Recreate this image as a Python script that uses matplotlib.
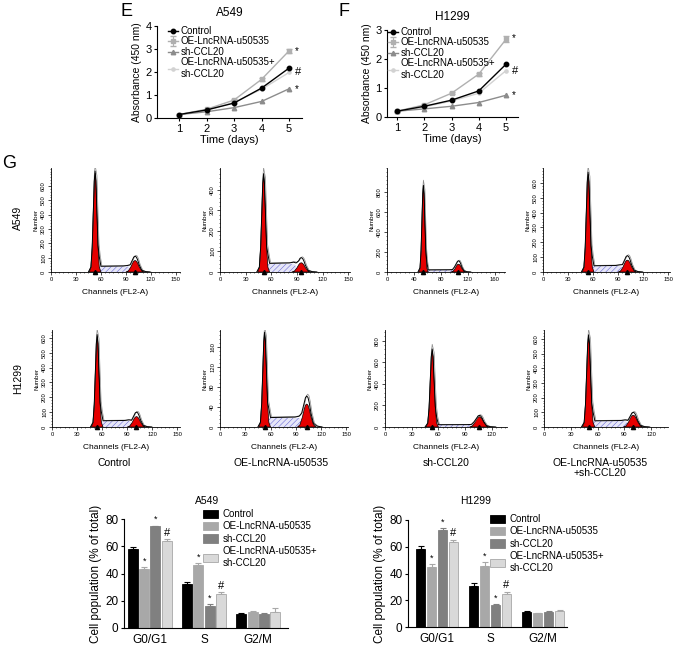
import numpy as np
import matplotlib.pyplot as plt
from matplotlib.ticker import MultipleLocator

plt.rcParams['font.family'] = ['Liberation Sans', 'DejaVu Sans']
plt.rcParams['axes.linewidth'] = 0.8
plt.rcParams['hatch.linewidth'] = 0.35

W, H = 677, 647

# ---------------- data ----------------
days = [1, 2, 3, 4, 5]
group_names = ['Control', 'OE-LncRNA-u50535', 'sh-CCL20', 'OE-LncRNA-u50535+\nsh-CCL20']

# absorbance (450 nm), panel E / F
a549_control = [0.15, 0.35, 0.65, 1.30, 2.17]
a549_oe = [0.15, 0.38, 0.78, 1.68, 2.92]
a549_sh = [0.15, 0.27, 0.45, 0.72, 1.27]
a549_oe_sh = [0.15, 0.33, 0.68, 1.25, 1.98]
a549_oe_err = [0.02, 0.03, 0.04, 0.08, 0.10]
a549_marks = [(2.92, '*'), (1.98, '#'), (1.27, '*')]

h1299_control = [0.20, 0.37, 0.58, 0.90, 1.82]
h1299_oe = [0.20, 0.42, 0.82, 1.48, 2.68]
h1299_sh = [0.20, 0.28, 0.37, 0.50, 0.75]
h1299_oe_sh = [0.20, 0.35, 0.55, 0.82, 1.60]
h1299_oe_err = [0.02, 0.03, 0.04, 0.05, 0.10]
h1299_marks = [(2.72, '*'), (1.60, '#'), (0.75, '*')]

# flow cytometry histograms (rows: A549, H1299; columns: groups)
hist_g1_pos = [[53, 51, 54, 54], [54, 53, 53, 50]]
hist_g1_height = [[690, 470, 850, 660], [610, 186, 710, 615]]
hist_g2_pos = [[101, 95, 106, 101], [101, 103, 106, 100]]
hist_g2_height = [[80, 45, 78, 80], [70, 46, 95, 80]]
hist_g2_outline = [[110, 70, 112, 110], [100, 62, 108, 100]]
hist_s_level = [[38, 40, 20, 40], [40, 18, 20, 40]]
hist_ymax = [[725, 507, 1040, 701], [653, 194, 900, 660]]
hist_ystep = [[100, 100, 200, 100], [100, 40, 200, 100]]
hist_yticktop = [[600, 400, 800, 600], [600, 160, 800, 600]]
hist_xmax = [[155, 152, 175, 152], [153, 152, 137, 139]]
hist_xstep = [[30, 30, 40, 30], [30, 30, 30, 30]]
hist_xticktop = [[150, 150, 160, 150], [150, 150, 120, 120]]

# peak profile read from the red G1 / G2 areas
g1_offsets = np.array([-7, -5, -3.5, -2, -1, 0, 1, 2, 3.5, 5, 7])
g1_shape = np.array([0, 0.05, 0.25, 0.65, 0.92, 1, 0.92, 0.65, 0.25, 0.05, 0])
g2_offsets = np.array([-11, -8, -5, -3, -1.5, 0, 1.5, 3, 5, 8, 11])
g2_shape = np.array([0, 0.1, 0.45, 0.78, 0.95, 1, 0.95, 0.78, 0.45, 0.1, 0])

# cell cycle distribution (% of total)
phases = ['G0/G1', 'S', 'G2/M']
a549_cycle = [[58, 32, 10.5], [43, 46, 11.5], [74.5, 16, 10.3], [63.5, 25, 12]]
a549_cycle_err = [[1.5, 2, 0.5], [1.5, 1.5, 0.8], [0.7, 1.5, 0.5], [1.5, 1.2, 2.5]]
a549_cycle_marks = [['', '', ''], ['*', '*', ''], ['*', '*', ''], ['#', '#', '']]
h1299_cycle = [[58, 31, 11.5], [44.5, 45.5, 10.5], [72.5, 16.5, 11.5], [63.5, 25, 12]]
h1299_cycle_err = [[2.5, 2, 0.5], [2.5, 3, 0.3], [1.2, 0.8, 0.5], [1.5, 1.2, 1]]
h1299_cycle_marks = a549_cycle_marks

fig = plt.figure(figsize=(W / 100, H / 100), dpi=100)


def px_axes(left, top, right, bottom):
    return fig.add_axes([left / W, 1 - bottom / H, (right - left) / W, (bottom - top) / H])


def fig_text(x, y, s, **kw):
    fig.text(x / W, 1 - y / H, s, **kw)


def clean(ax):
    ax.spines['top'].set_visible(False)
    ax.spines['right'].set_visible(False)


# ---------------- E / F: absorbance ----------------
line_styles = [dict(color='black', marker='o', ms=3.2),
               dict(color='#b0b0b0', marker='s', ms=3.2),
               dict(color='#8c8c8c', marker='^', ms=3.2),
               dict(color='#d2d2d2', marker='o', ms=2.3)]


def absorbance_panel(box, xlim, ylim, title, series, oe_err, marks, legend_at):
    ax = px_axes(*box)
    clean(ax)
    for i, (vals, st) in enumerate(zip(series, line_styles)):
        err = oe_err if i == 1 else None
        ax.errorbar(days, vals, yerr=err, lw=1, capsize=2, elinewidth=0.8,
                    label=group_names[i], zorder=4 - i if i != 0 else 5, **st)
    for val, s in marks:
        ax.text(5.22, val, s, fontsize=8 if s == '#' else 7, va='center', ha='left')
    ax.set_xlim(*xlim)
    ax.set_ylim(*ylim)
    ax.set_xticks(days)
    ax.set_yticks(np.arange(0, ylim[1] + 0.1, 1))
    ax.tick_params(labelsize=8, length=2.5, width=0.8, pad=1.5)
    ax.set_xlabel('Time (days)', fontsize=8, labelpad=1)
    ax.set_ylabel('Absorbance (450 nm)', fontsize=7.5, labelpad=2)
    ax.set_title(title, fontsize=8.5, pad=7)
    ax.legend(loc='upper left', bbox_to_anchor=(legend_at[0] / W, 1 - legend_at[1] / H),
              bbox_transform=fig.transFigure, frameon=False, fontsize=7,
              handlelength=1.0, handletextpad=0.3, labelspacing=0.05, borderpad=0,
              borderaxespad=0)
    return ax


absorbance_panel((157, 26, 302, 118), (0.2, 5.47), (0, 4), 'A549',
                 [a549_control, a549_oe, a549_sh, a549_oe_sh], a549_oe_err, a549_marks,
                 (168, 26))
absorbance_panel((387, 30, 518, 117), (0.63, 5.44), (0, 3), 'H1299',
                 [h1299_control, h1299_oe, h1299_sh, h1299_oe_sh], h1299_oe_err, h1299_marks,
                 (388, 27))

fig_text(126, 12, 'E', fontsize=13, ha='center', va='center')
fig_text(344, 12, 'F', fontsize=13, ha='center', va='center')
fig_text(9, 163, 'G', fontsize=13, ha='center', va='center')


# ---------------- G: cell cycle histograms ----------------
def cycle_hist(ax, r, c):
    c1, h1 = hist_g1_pos[r][c], hist_g1_height[r][c]
    c2, h2 = hist_g2_pos[r][c], hist_g2_height[r][c]
    o, s = hist_g2_outline[r][c], hist_s_level[r][c]

    ax.fill([c1 + 2, c1 + 5, c2 - 8, c2 - 3], [0, s, s, 0], facecolor='#e6e6f8',
            edgecolor='#5a5ad0', hatch='//////', lw=0, zorder=2)
    ax.fill(c1 + g1_offsets, h1 * g1_shape, facecolor='#e50000', edgecolor='black',
            lw=0.5, zorder=3)
    ax.fill(c2 + g2_offsets, h2 * g2_shape, facecolor='#e50000', edgecolor='black',
            lw=0.5, zorder=3)

    ox = [c1 - 8, c1 - 5, c1 - 3.5, c1 - 2, c1 - 1, c1, c1 + 1, c1 + 2, c1 + 3.5, c1 + 5,
          c1 + 7, c2 - 14, c2 - 9, c2 - 6, c2 - 3, c2 - 1.5, c2, c2 + 1.5, c2 + 3, c2 + 5,
          c2 + 8, c2 + 12, c2 + 18]
    oy = [0, .05 * h1, .25 * h1, .65 * h1, .92 * h1, 1.02 * h1, .92 * h1, .65 * h1,
          .27 * h1, .1 * h1 + s, 1.05 * s, 1.1 * s, max(1.2 * s, .2 * o),
          max(1.1 * s, .45 * o), .78 * o, .95 * o, o, .95 * o, .78 * o, .45 * o, .12 * o,
          .03 * o, 0]
    gx = [x + (1.2 if i >= 6 else 0) for i, x in enumerate(ox)]
    gy = [y * 1.06 for y in oy]
    ax.plot(gx, gy, color='#8a8a8a', lw=0.5, zorder=4)
    ax.plot(ox, oy, color='black', lw=0.7, zorder=5)
    ax.plot([c1, c2], [0, 0], ls='none', marker='^', ms=3, color='black',
            clip_on=False, zorder=6)

    ax.set_xlim(0, hist_xmax[r][c])
    ax.set_ylim(0, hist_ymax[r][c])
    ax.set_xticks(np.arange(0, hist_xticktop[r][c] + 1, hist_xstep[r][c]))
    ax.set_yticks(np.arange(0, hist_yticktop[r][c] + 1, hist_ystep[r][c]))
    ax.xaxis.set_minor_locator(MultipleLocator(hist_xstep[r][c] / 6))
    ax.yaxis.set_minor_locator(MultipleLocator(hist_ystep[r][c] / 5))
    ax.tick_params(which='major', labelsize=4.2, length=2, width=0.5, pad=1.5)
    ax.tick_params(which='minor', length=1, width=0.4)
    for lab in ax.get_yticklabels():
        lab.set_rotation(90)
        lab.set_va('center')
    ax.set_ylabel('Number', fontsize=4.5, labelpad=2)
    ax.set_xlabel('Channels (FL2-A)', fontsize=6, labelpad=5)
    for sp in ('left', 'bottom'):
        ax.spines[sp].set_linewidth(0.6)
    clean(ax)


hist_boxes = [
    [(51, 168, 180, 272), (220, 168, 350, 272), (387, 168, 505, 272), (543, 168, 670, 272)],
    [(52, 330, 180, 427), (220, 330, 348, 427), (385, 330, 507, 427), (544, 330, 668, 427)],
]
for r in range(2):
    for c in range(4):
        cycle_hist(px_axes(*hist_boxes[r][c]), r, c)

fig_text(18, 218, 'A549', fontsize=7.5, rotation=90, ha='center', va='center')
fig_text(18, 378, 'H1299', fontsize=7.5, rotation=90, ha='center', va='center')
col_label_x = [114, 281, 446, 600]
col_labels = ['Control', 'OE-LncRNA-u50535', 'sh-CCL20', 'OE-LncRNA-u50535\n+sh-CCL20']
for x, lab in zip(col_label_x, col_labels):
    fig_text(x, 458, lab, fontsize=7.5, ha='center', va='top', linespacing=0.95)

# ---------------- cell population bars ----------------
bar_colors = ['#000000', '#a8a8a8', '#808080', '#d9d9d9']
bar_edges = ['#000000', '#a8a8a8', '#808080', '#a8a8a8']


def cycle_bars(box, xlim, width, pitch, vals, errs, marks, title, title_xy, legend_at):
    ax = px_axes(*box)
    clean(ax)
    x = np.arange(len(phases))
    for i in range(4):
        pos = x + (i - 1.5) * pitch
        ax.bar(pos, vals[i], width, color=bar_colors[i], edgecolor=bar_edges[i], lw=0.6,
               label=group_names[i], zorder=2)
        ax.errorbar(pos, vals[i], yerr=[np.zeros(3), errs[i]], fmt='none',
                    ecolor=bar_edges[i], elinewidth=0.8, capsize=2.2, capthick=0.8, zorder=1)
        for p, v, e, m in zip(pos, vals[i], errs[i], marks[i]):
            if m:
                ax.text(p, v + e + 1.2, m, ha='center', va='bottom',
                        fontsize=8 if m == '#' else 6.5)
    ax.set_xlim(*xlim)
    ax.set_ylim(0, 80)
    ax.set_yticks(np.arange(0, 81, 20))
    ax.set_xticks(x)
    ax.set_xticklabels(phases)
    ax.tick_params(axis='x', length=0, labelsize=8.5, pad=4)
    ax.tick_params(axis='y', length=2.5, width=0.8, labelsize=8.5, pad=1.5)
    ax.set_ylabel('Cell population (% of total)', fontsize=8.5, labelpad=2)
    fig_text(title_xy[0], title_xy[1], title, fontsize=7.5, ha='center', va='center')
    ax.legend(loc='upper left', bbox_to_anchor=(legend_at[0] / W, 1 - legend_at[1] / H),
              bbox_transform=fig.transFigure, frameon=False, fontsize=7,
              handlelength=1.5, handleheight=0.9, handletextpad=0.5, labelspacing=0.25,
              borderpad=0, borderaxespad=0)
    return ax


cycle_bars((124, 519, 288, 628), (-0.477, 2.55), 0.183, 0.207, a549_cycle, a549_cycle_err,
           a549_cycle_marks, 'A549', (207, 501), (203, 509))
cycle_bars((408, 520, 567, 627), (-0.547, 2.45), 0.17, 0.207, h1299_cycle, h1299_cycle_err,
           h1299_cycle_marks, 'H1299', (476, 501), (490, 514))

fig.savefig('out.png', dpi=100)
